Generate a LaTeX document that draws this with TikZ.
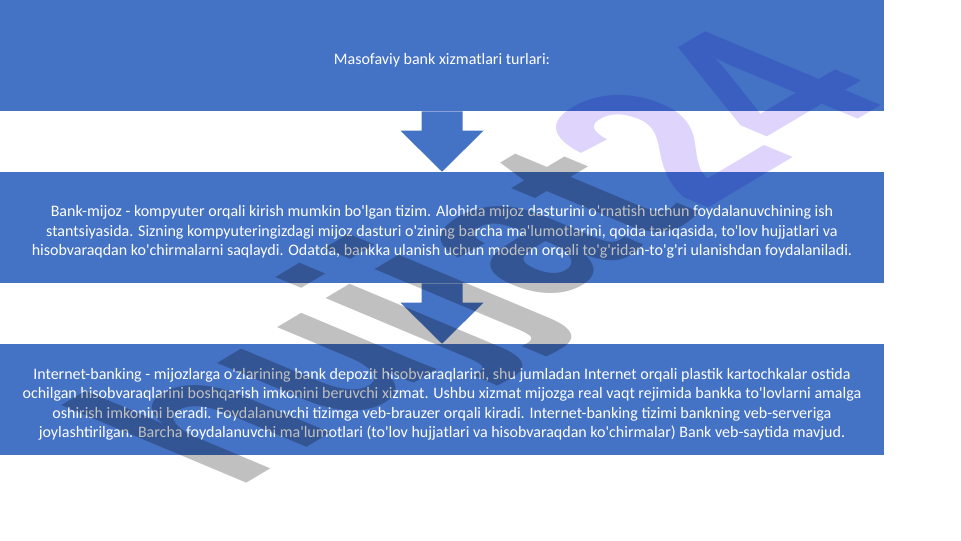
\documentclass[tikz,border=0pt]{standalone}
\usepackage{fontspec}
\setmainfont{Carlito}[Ligatures=TeXOff]
\newfontfamily\markfont{Liberation Sans}
\usepackage{xcolor}
\usepackage{tikz}
\usetikzlibrary{positioning}
\usetikzlibrary{calc}
\definecolor{boxblue}{HTML}{4472C4}
\definecolor{markgray}{RGB}{192,192,192}
\definecolor{marklilac}{RGB}{222,212,252}

\begin{document}
\begin{tikzpicture}[x=0.75pt, y=0.75pt,
    every node/.style={inner sep=0pt},
    stagebox/.style={fill=boxblue,
        minimum width=663pt,
        minimum height=83.25pt},
    stagetext/.style={text=white,
        align=center,
        yshift=-3.5,
        font=\fontsize{12}{14.6}\selectfont}]
    \useasboundingbox (0,0) rectangle (961,540);
    \node[stagebox] at (442,484.5) (title) {};
    \node[stagebox] at (442,312.5) (client) {};
    \node[stagebox] at (442,140.5) (internet) {};
    % block arrows between the boxes
    \foreach \a/\b in {title/client, client/internet}
        \fill[boxblue] ($(\a.south)+(-20.5,0)$) -- ($(\b.north)+(-20.5,41)$) -- ($(\b.north)+(-41.5,41)$)
            -- (\b.north) -- ($(\b.north)+(41.5,41)$) -- ($(\b.north)+(20.5,41)$) -- ($(\a.south)+(20.5,0)$) -- cycle;
    \node[stagetext] at (title.center) (title text) {Masofaviy bank xizmatlari turlari:};
    \node[stagetext] at (client.center) (client text) {Bank-mijoz - kompyuter orqali kirish mumkin bo'lgan tizim. Alohida mijoz dasturini o'rnatish uchun foydalanuvchining ish\\
        stantsiyasida. Sizning kompyuteringizdagi mijoz dasturi o'zining barcha ma'lumotlarini, qoida tariqasida, to'lov hujjatlari va\\
        hisobvaraqdan ko'chirmalarni saqlaydi. Odatda, bankka ulanish uchun modem orqali to'g'ridan-to'g'ri ulanishdan foydalaniladi.};
    \node[stagetext] at (internet.center) (internet text) {Internet-banking - mijozlarga o'zlarining bank depozit hisobvaraqlarini, shu jumladan Internet orqali plastik kartochkalar ostida\\
        ochilgan hisobvaraqlarini boshqarish imkonini beruvchi xizmat. Ushbu xizmat mijozga real vaqt rejimida bankka to'lovlarni amalga\\
        oshirish imkonini beradi. Foydalanuvchi tizimga veb-brauzer orqali kiradi. Internet-banking tizimi bankning veb-serveriga\\
        joylashtirilgan. Barcha foydalanuvchi ma'lumotlari (to'lov hujjatlari va hisobvaraqdan ko'chirmalar) Bank veb-saytida mavjud.};
    % watermark
    \begin{scope}[shift={(500,275)}, yscale=0.5]
        \node[rotate=50, xscale=0.82, transform shape, blend mode=multiply,
            font=\markfont\bfseries\fontsize{250}{250}\selectfont] (mark)
            {\textcolor{markgray}{hujjat}\textcolor{marklilac}{24}};
    \end{scope}
\end{tikzpicture}
\end{document}
